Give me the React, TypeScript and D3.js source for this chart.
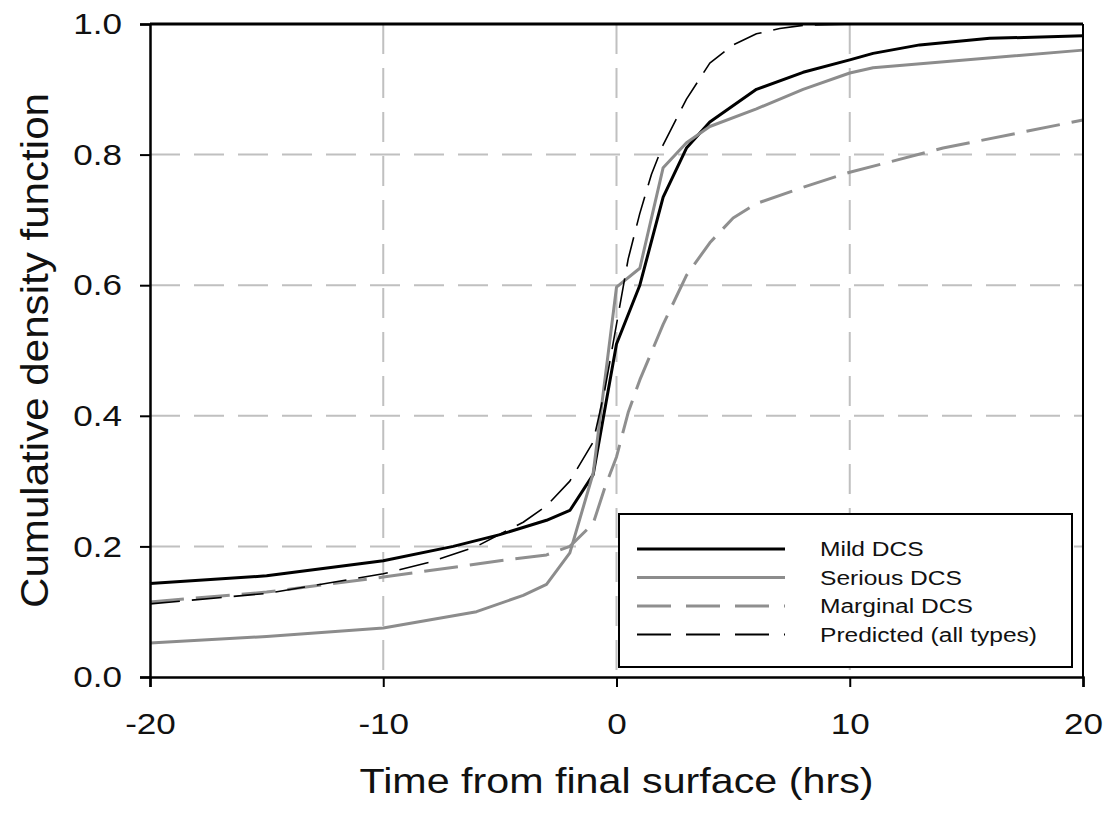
import { useRef, useEffect } from 'react';
import * as d3 from 'd3';

// values: [hours, cdf]
const mildDCS: [number, number][] = [
  [-20, 0.143], [-15, 0.155], [-10, 0.178], [-7, 0.2], [-5, 0.218], [-3, 0.24],
  [-2, 0.255], [-1, 0.31], [0, 0.51], [1, 0.6], [2, 0.735], [3, 0.81], [4, 0.85],
  [6, 0.9], [8, 0.926], [10, 0.945], [11, 0.955], [13, 0.968], [16, 0.978], [20, 0.982],
];
const seriousDCS: [number, number][] = [
  [-20, 0.052], [-15, 0.062], [-10, 0.075], [-6, 0.1], [-4, 0.125], [-3, 0.142],
  [-2, 0.19], [-1, 0.312], [0, 0.597], [1, 0.626], [2, 0.78], [3, 0.818], [4, 0.843],
  [6, 0.87], [8, 0.9], [10, 0.925], [11, 0.933], [20, 0.96],
];
const marginalDCS: [number, number][] = [
  [-20, 0.115], [-15, 0.13], [-10, 0.153], [-5, 0.178], [-3, 0.187], [-2, 0.2],
  [-1, 0.235], [-0.5, 0.29], [0, 0.337], [0.5, 0.405], [1, 0.455], [2, 0.54],
  [3, 0.615], [4, 0.665], [5, 0.703], [6, 0.725], [8, 0.75], [10, 0.773], [14, 0.81], [20, 0.853],
];
const predicted: [number, number][] = [
  [-20, 0.112], [-15, 0.128], [-10, 0.158], [-8, 0.176], [-6, 0.2], [-4, 0.237],
  [-3, 0.262], [-2, 0.3], [-1, 0.36], [-0.5, 0.44], [0, 0.54], [0.5, 0.64], [1, 0.71],
  [1.5, 0.77], [2, 0.815], [3, 0.885], [4, 0.94], [5, 0.968], [6, 0.985], [7, 0.993],
  [8, 0.998], [10, 1.0], [20, 1.0],
];

const xTicks = [-20, -10, 0, 10, 20];
const yTicks = [0, 0.2, 0.4, 0.6, 0.8, 1.0];

const series = [
  { name: 'Mild DCS', data: mildDCS, color: '#000', width: 3, dash: null, legendDash: null },
  { name: 'Serious DCS', data: seriousDCS, color: '#8c8c8c', width: 3, dash: null, legendDash: null },
  { name: 'Marginal DCS', data: marginalDCS, color: '#8f8f8f', width: 3, dash: '34,12', legendDash: '34,15' },
  { name: 'Predicted (all types)', data: predicted, color: '#000', width: 1.6, dash: '30,12', legendDash: '34,15' },
];

const W = 1105;
const H = 816;
const font = '"Liberation Sans", Arial, sans-serif';
const stretch = 1.17; // the original text is a bit wider than it is tall

const App = () => {
  const svgRef = useRef<SVGSVGElement>(null);

  useEffect(() => {
    const svg = d3.select(svgRef.current);
    svg.selectAll('*').remove();

    const margin = { top: 24, right: 22, bottom: 139, left: 150 };
    const x = d3.scaleLinear().domain([-20, 20]).range([margin.left, W - margin.right]);
    const y = d3.scaleLinear().domain([0, 1]).range([H - margin.bottom, margin.top]);

    // grid
    const grid = svg.append('g');
    grid.selectAll('line.vg')
      .data(xTicks.slice(1, -1))
      .join('line')
      .attr('x1', d => x(d)).attr('x2', d => x(d))
      .attr('y1', y(1)).attr('y2', y(0))
      .attr('stroke', '#c0c0c0').attr('stroke-width', 2)
      .attr('stroke-dasharray', '30,14');
    grid.selectAll('line.hg')
      .data(yTicks.slice(1, -1))
      .join('line')
      .attr('x1', x(-20)).attr('x2', x(20))
      .attr('y1', d => y(d)).attr('y2', d => y(d))
      .attr('stroke', '#c0c0c0').attr('stroke-width', 2)
      .attr('stroke-dasharray', '30,14');

    // curves
    const line = d3.line<[number, number]>().x(d => x(d[0])).y(d => y(d[1]));
    series.forEach(s => {
      svg.append('path')
        .datum(s.data)
        .attr('d', line)
        .attr('fill', 'none')
        .attr('stroke', s.color)
        .attr('stroke-width', s.width)
        .attr('stroke-dasharray', s.dash)
        .attr('stroke-linejoin', 'round');
    });

    // frame
    svg.append('line').attr('x1', x(-20)).attr('x2', x(20)).attr('y1', y(1)).attr('y2', y(1))
      .attr('stroke', '#000').attr('stroke-width', 3);
    svg.append('line').attr('x1', x(20)).attr('x2', x(20)).attr('y1', y(1)).attr('y2', y(0))
      .attr('stroke', '#000').attr('stroke-width', 2);

    const xAxis = svg.append('g')
      .attr('transform', `translate(0,${y(0)})`)
      .call(d3.axisBottom(x).tickValues(xTicks).tickSize(10).tickPadding(26).tickFormat(d => String(d)));
    const yAxis = svg.append('g')
      .attr('transform', `translate(${x(-20)},0)`)
      .call(d3.axisLeft(y).tickValues(yTicks).tickSize(10).tickFormat(d3.format('.1f')));

    [xAxis, yAxis].forEach(a => {
      a.select('.domain').attr('stroke', '#000').attr('stroke-width', 2.5);
      a.selectAll('.tick line').attr('stroke', '#000').attr('stroke-width', 2);
      a.selectAll('.tick text').attr('fill', '#111').attr('font-family', font).attr('font-size', 30);
    });
    xAxis.selectAll('.tick text')
      .attr('transform', function () {
        const ty = d3.select(this).attr('y');
        return `translate(0,${ty}) scale(${stretch},1)`;
      })
      .attr('y', 0);
    yAxis.selectAll('.tick text')
      .attr('x', 0)
      .attr('transform', `translate(-28,0) scale(${stretch},1)`);

    // axis titles
    svg.append('text')
      .attr('x', x(0)).attr('y', 793)
      .attr('text-anchor', 'middle')
      .attr('font-family', font).attr('font-size', 35).attr('fill', '#111')
      .attr('textLength', 514).attr('lengthAdjust', 'spacingAndGlyphs')
      .text('Time from final surface (hrs)');
    svg.append('text')
      .attr('transform', `translate(48,${y(0.5)}) rotate(-90)`)
      .attr('text-anchor', 'middle')
      .attr('font-family', font).attr('font-size', 38).attr('fill', '#111')
      .attr('textLength', 515).attr('lengthAdjust', 'spacingAndGlyphs')
      .text('Cumulative density function');

    // legend
    const lg = svg.append('g').attr('transform', 'translate(619,514)');
    lg.append('rect').attr('width', 453).attr('height', 153)
      .attr('fill', '#fff').attr('stroke', '#000').attr('stroke-width', 2);
    series.forEach((s, i) => {
      const ly = 35 + i * 28.5;
      lg.append('line')
        .attr('x1', 18).attr('x2', 166).attr('y1', ly).attr('y2', ly)
        .attr('stroke', s.color)
        .attr('stroke-width', s.width === 3 ? 3 : 2)
        .attr('stroke-dasharray', s.legendDash);
      lg.append('text')
        .attr('transform', `translate(201,${ly + 7}) scale(${stretch},1)`)
        .attr('font-family', font).attr('font-size', 21).attr('fill', '#111')
        .text(s.name);
    });
  }, []);

  return (
    <>
      <style>{'body{margin:0}'}</style>
      <svg ref={svgRef} width={W} height={H} style={{ display: 'block', background: '#fff' }}></svg>
    </>
  );
};

export default App;
